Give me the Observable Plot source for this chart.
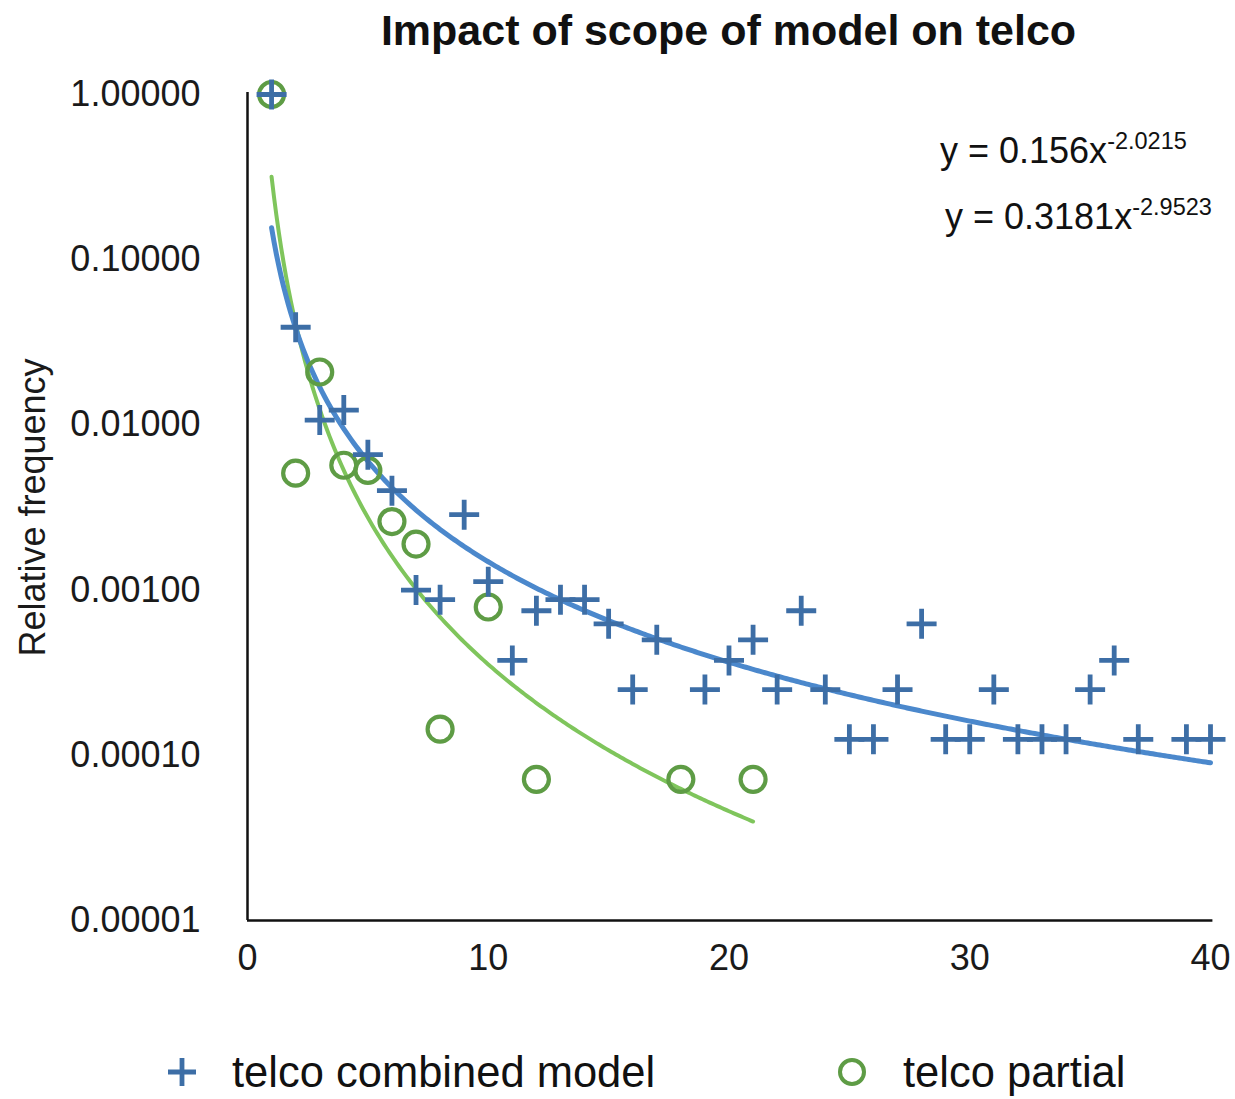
<!DOCTYPE html>
<html>
<head>
<meta charset="utf-8">
<script src="https://cdn.jsdelivr.net/npm/d3@7"></script>
<script src="https://cdn.jsdelivr.net/npm/@observablehq/plot@0.6"></script>
<style>
  body { margin: 0; background: #fff; font-family: "Liberation Sans", Arial, Helvetica, sans-serif; }
  #wrap { position: relative; width: 1235px; height: 1099px; }
  #title { height: 60px; line-height: 60px; padding-left: 247px; padding-right: 25px; text-align: center;
           font-size: 43px; font-weight: bold; color: #111; box-sizing: border-box; width: 1235px; }
  #legend { position: relative; height: 89px; width: 1235px; }
  .lg-item { position: absolute; top: 62px; transform: translateY(-50%); font-size: 43.5px; color: #111; white-space: nowrap; }
  .lg-sym { position: absolute; top: 62px; transform: translate(-50%, -50%); }
</style>
</head>
<body>
<div id="wrap">
  <div id="title">Impact of scope of model on telco</div>
  <div id="chart"></div>
  <div id="legend"></div>
</div>
<script>
// ---- data ----
const combinedX = [1,2,3,4,5,6,7,8,9,10,11,12,13,14,15,16,17,19,20,21,22,23,24,25,26,27,28,29,30,31,32,33,34,35,36,37,39,40];
const combinedY = [1.0,0.039,0.0107,0.0123,0.0066,0.0040,0.001,0.000875,0.00286,0.001125,0.000375,0.00075,0.000875,0.000875,0.000625,0.00025,0.0005,0.00025,0.000375,0.0005,0.00025,0.00075,0.00025,0.000125,0.000125,0.00025,0.000625,0.000125,0.000125,0.00025,0.000125,0.000125,0.000125,0.00025,0.000375,0.000125,0.000125,0.000125];
const partialX = [1,2,3,4,5,6,7,8,10,12,18,21];
const partialY = [1.0,0.0051,0.0209,0.0057,0.0053,0.0026,0.0019,0.000144,0.00079,0.0000715,0.0000715,0.0000715];
const combinedFit = {a: 0.156, b: -2.0215, xMax: 40};
const partialFit = {a: 0.3181, b: -2.9523, xMax: 21};
const seriesNames = ["telco combined model", "telco partial"];
const xTicks = [0, 10, 20, 30, 40];
const yTicks = [1, 0.1, 0.01, 0.001, 0.0001, 0.00001];

// ---- styles ----
const crossColor = "#3d6ea6";
const circleColor = "#5e9c45";
const blueLine = "#4b88cc";
const greenLine = "#7fc55c";

const combined = combinedX.map((x, i) => ({x, y: combinedY[i]}));
const partial = partialX.map((x, i) => ({x, y: partialY[i]}));
function fitCurve(fit) {
  return d3.range(1, fit.xMax + 0.001, 0.1).map(x => ({x, y: fit.a * Math.pow(x, fit.b)}));
}
const plusSymbol = {
  draw(ctx, size) {
    const r = Math.sqrt(size / Math.PI);
    ctx.moveTo(-r, 0); ctx.lineTo(r, 0);
    ctx.moveTo(0, -r); ctx.lineTo(0, r);
  }
};

const chart = Plot.plot({
  width: 1235,
  height: 950,
  marginLeft: 247,
  marginRight: 25,
  marginTop: 34,
  marginBottom: 90,
  style: {fontFamily: '"Liberation Sans", Arial, Helvetica, sans-serif', color: "#1a1a1a", background: "white"},
  x: {domain: [0, 40]},
  y: {type: "log", domain: [0.00001, 1]},
  marks: [
    Plot.axisX({ticks: xTicks, tickSize: 0, tickPadding: 24, fontSize: 36, label: null}),
    Plot.axisY({ticks: yTicks, tickSize: 0, tickPadding: 47, fontSize: 36, label: null, tickFormat: d3.format(".5f")}),
    Plot.text(["Relative frequency"], {frameAnchor: "left", textAnchor: "middle", rotate: -90, dx: -214, fontSize: 36, fill: "#1a1a1a"}),
    Plot.ruleX([0], {y1: 0.00001, y2: 1.03, stroke: "#111", strokeWidth: 2.5}),
    Plot.ruleY([0.00001], {x1: 0, x2: 40.1, stroke: "#111", strokeWidth: 2.5}),
    Plot.line(fitCurve(partialFit), {x: "x", y: "y", stroke: greenLine, strokeWidth: 4}),
    Plot.line(fitCurve(combinedFit), {x: "x", y: "y", stroke: blueLine, strokeWidth: 5}),
    Plot.dot(partial, {x: "x", y: "y", r: 12.5, fill: "none", stroke: circleColor, strokeWidth: 4.2}),
    Plot.dot(combined, {x: "x", y: "y", r: 15, symbol: plusSymbol, fill: "none", stroke: crossColor, strokeWidth: 4.8})
  ]
});
document.getElementById("chart").appendChild(chart);

// equations (trendline labels)
const svg = d3.select(chart);
function eq(xPos, yPos, base, exp) {
  const t = svg.append("text").attr("x", xPos).attr("y", yPos).attr("text-anchor", "start")
    .attr("font-family", '"Liberation Sans", Arial, Helvetica, sans-serif').attr("fill", "#111");
  t.append("tspan").attr("font-size", 36).text(base);
  t.append("tspan").attr("font-size", 23.5).attr("dy", -14).text(exp);
}
eq(940, 103, "y = " + combinedFit.a + "x", String(combinedFit.b));
eq(945, 169, "y = " + partialFit.a + "x", String(partialFit.b));

// legend
const legend = document.getElementById("legend");
legend.innerHTML = `
  <svg class="lg-sym" style="left:182px" width="34" height="34" viewBox="-17 -17 34 34">
    <path d="M-14,0L14,0M0,-14L0,14" stroke="${crossColor}" stroke-width="4.8" fill="none"/></svg>
  <div class="lg-item" style="left:232px">${seriesNames[0]}</div>
  <svg class="lg-sym" style="left:852px" width="34" height="34" viewBox="-17 -17 34 34">
    <circle r="12" stroke="${circleColor}" stroke-width="4" fill="none"/></svg>
  <div class="lg-item" style="left:903px">${seriesNames[1]}</div>`;
</script>
</body>
</html>
